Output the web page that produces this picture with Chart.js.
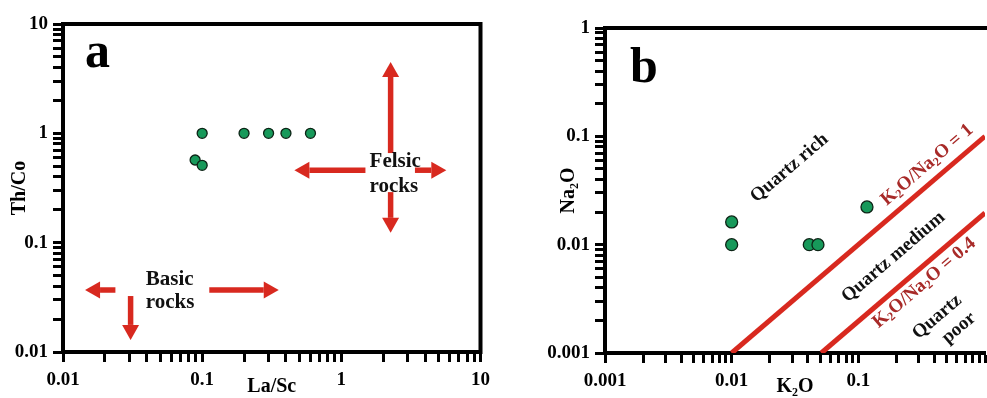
<!DOCTYPE html>
<html>
<head>
<meta charset="utf-8">
<script src="https://cdn.jsdelivr.net/npm/chart.js@4.4.1/dist/chart.umd.min.js"></script>
<style>
  html, body { margin: 0; padding: 0; background: #fff; overflow: hidden; }
  canvas { position: absolute; top: 0; }
</style>
</head>
<body>
<canvas id="chartA" width="497" height="398" style="left:0"></canvas>
<canvas id="chartB" width="500" height="398" style="left:500px"></canvas>
<script>
// Panel a: La/Sc vs Th/Co
const laSc = [0.089, 0.1, 0.1, 0.2, 0.3, 0.4, 0.6];
const thCo = [0.57, 0.51, 1.0, 1.0, 1.0, 1.0, 1.0];

// Panel b: K2O vs Na2O
const k2o  = [0.01, 0.01, 0.041, 0.048, 0.117];
const na2o = [0.0162, 0.01, 0.01, 0.01, 0.0223];

// boundary lines in panel b
const ratio1K2O  = [0.01, 1];
const ratio1Na2O = [0.001, 0.1];
const ratio04K2O  = [0.051, 1];
const ratio04Na2O = [0.001, 0.0196];

// tick labels
const xLabelsA = [0.01, 0.1, 1, 10];
const yLabelsA = [0.01, 0.1, 1, 10];
const xLabelsB = [0.001, 0.01, 0.1];
const yLabelsB = [0.001, 0.01, 0.1, 1];

// annotations, in data units
const arrowsA = [ // tail x, tail y, head x, head y
  [2.26, 0.66, 2.26, 4.5],
  [2.26, 0.29, 2.26, 0.123],
  [1.49, 0.46, 0.46, 0.46],
  [3.38, 0.46, 5.68, 0.46],
  [0.0238, 0.0369, 0.0144, 0.0369],
  [0.0306, 0.0325, 0.0306, 0.0129],
  [0.1125, 0.0369, 0.355, 0.0369]
];
const textA = [['Felsic', 1.596, 0.493], ['rocks', 1.596, 0.291], ['Basic', 0.0393, 0.041], ['rocks', 0.0393, 0.0253]];
const textB = [ // segments [text, isSub], x, y, colour
  [[['Quartz rich', 0]], 0.0286, 0.051, '#111'],
  [[['K', 0], ['2', 1], ['O/Na', 0], ['2', 1], ['O = 1', 0]], 0.349, 0.0545, '#a82a28'],
  [[['Quartz medium', 0]], 0.189, 0.00769, '#111'],
  [[['K', 0], ['2', 1], ['O/Na', 0], ['2', 1], ['O = 0.4', 0]], 0.331, 0.00443, '#a82a28'],
  [[['Quartz', 0]], 0.419, 0.00215, '#111'],
  [[['poor', 0]], 0.623, 0.0017, '#111']
];

const SERIF = "'Liberation Serif', 'Times New Roman', serif";
const RED = '#d8291f';

function mantissa(v) {
  return v / Math.pow(10, Math.floor(Math.log10(v) + 1e-9));
}

function logAxis(pos, min, max, labels, title, size, titlePad) {
  return {
    type: 'logarithmic', position: pos, min: min, max: max,
    afterBuildTicks: s => { s.ticks = s.ticks.filter(t => Math.abs(mantissa(t.value) - 1.5) > 1e-6); },
    afterFit: s => { if (pos === 'left') s.width = size; else s.height = size; },
    border: { display: true, color: '#000', width: 4 },
    grid: { display: true, drawOnChartArea: false, drawTicks: true, tickLength: 10, tickColor: '#000', tickWidth: 3 },
    ticks: {
      autoSkip: false, maxRotation: 0, minRotation: 0, padding: pos === 'left' ? 5 : 7, color: '#000',
      font: { family: SERIF, size: 19, weight: 'bold' },
      callback: v => {
        const hit = labels.find(l => Math.abs(Math.log10(v / l)) < 1e-6);
        return hit !== undefined ? String(hit) : '';
      }
    },
    title: {
      display: true, text: title, color: '#000',
      font: { family: SERIF, size: 20, weight: 'bold', lineHeight: 1.1 },
      padding: { top: titlePad, bottom: 0 }
    }
  };
}

function arrow(ctx, x1, y1, x2, y2) {
  const ang = Math.atan2(y2 - y1, x2 - x1);
  const head = 15, half = 8.5;
  const bx = x2 - head * Math.cos(ang), by = y2 - head * Math.sin(ang);
  ctx.strokeStyle = RED; ctx.fillStyle = RED; ctx.lineWidth = 5.5;
  ctx.beginPath(); ctx.moveTo(x1, y1); ctx.lineTo(bx, by); ctx.stroke();
  ctx.beginPath();
  ctx.moveTo(x2, y2);
  ctx.lineTo(bx + half * Math.sin(ang), by - half * Math.cos(ang));
  ctx.lineTo(bx - half * Math.sin(ang), by + half * Math.cos(ang));
  ctx.closePath(); ctx.fill();
}

function richText(ctx, segs, x, y, angle, size, color) {
  const main = 'bold ' + size + 'px ' + SERIF;
  const sub = 'bold ' + Math.round(size * 0.62) + 'px ' + SERIF;
  let w = 0;
  segs.forEach(s => { ctx.font = s[1] ? sub : main; w += ctx.measureText(s[0]).width; });
  ctx.save();
  ctx.translate(x, y); ctx.rotate(angle);
  ctx.fillStyle = color; ctx.textBaseline = 'middle'; ctx.textAlign = 'left';
  let cx = -w / 2;
  segs.forEach(s => {
    ctx.font = s[1] ? sub : main;
    ctx.fillText(s[0], cx, s[1] ? size * 0.25 : 0);
    cx += ctx.measureText(s[0]).width;
  });
  ctx.restore();
}

const framePlugin = {
  id: 'frame',
  afterDraw(chart, args, opts) {
    const { ctx, chartArea: a } = chart;
    ctx.save();
    ctx.strokeStyle = '#000'; ctx.lineWidth = 4; ctx.lineCap = 'square';
    ctx.beginPath();
    ctx.moveTo(a.left, a.top); ctx.lineTo(a.right, a.top);
    if (opts.right) ctx.lineTo(a.right, a.bottom);
    ctx.stroke();
    ctx.font = 'bold 50px ' + SERIF; ctx.fillStyle = '#000';
    ctx.textBaseline = 'alphabetic';
    ctx.fillText(opts.letter, a.left + opts.dx, a.top + opts.dy);
    ctx.restore();
  }
};

const annotA = {
  id: 'annotA',
  afterDatasetsDraw(chart) {
    const { ctx, scales: { x, y } } = chart;
    ctx.save();
    arrowsA.forEach(r => arrow(ctx, x.getPixelForValue(r[0]), y.getPixelForValue(r[1]), x.getPixelForValue(r[2]), y.getPixelForValue(r[3])));
    ctx.fillStyle = '#111'; ctx.font = 'bold 21px ' + SERIF;
    ctx.textAlign = 'left'; ctx.textBaseline = 'alphabetic';
    textA.forEach(t => ctx.fillText(t[0], x.getPixelForValue(t[1]), y.getPixelForValue(t[2])));
    ctx.restore();
  }
};

const annotB = {
  id: 'annotB',
  afterDatasetsDraw(chart) {
    const { ctx, scales: { x, y } } = chart;
    const ang = Math.atan2(y.getPixelForValue(0.01) - y.getPixelForValue(0.1), x.getPixelForValue(0.1) - x.getPixelForValue(0.01));
    textB.forEach(t => richText(ctx, t[0], x.getPixelForValue(t[1]), y.getPixelForValue(t[2]), -ang, 19, t[3]));
  }
};

const pts = (xs, ys) => xs.map((v, i) => ({ x: v, y: ys[i] }));

const baseOpts = {
  responsive: false, animation: false, devicePixelRatio: 1,
  plugins: { legend: { display: false }, tooltip: { enabled: false } }
};

new Chart(document.getElementById('chartA'), {
  type: 'scatter',
  data: {
    datasets: [{
      data: pts(laSc, thCo),
      pointRadius: 5, pointBackgroundColor: '#17995a', pointBorderColor: '#0d2416', pointBorderWidth: 1.3
    }]
  },
  options: Object.assign({}, baseOpts, {
    layout: { padding: { top: 24, right: 13, left: 0, bottom: 0 } },
    scales: {
      x: logAxis('bottom', 0.01, 10, xLabelsA, 'La/Sc', 46, 0),
      y: logAxis('left', 0.01, 10, yLabelsA, 'Th/Co', 63, 9)
    },
    plugins: Object.assign({}, baseOpts.plugins, { frame: { right: true, letter: 'a', dx: 22, dy: 43 } })
  }),
  plugins: [framePlugin, annotA]
});

new Chart(document.getElementById('chartB'), {
  type: 'scatter',
  data: {
    datasets: [{
      data: pts(k2o, na2o),
      pointRadius: 6, pointBackgroundColor: '#17995a', pointBorderColor: '#0d2416', pointBorderWidth: 1.3
    }, {
      data: pts(ratio1K2O, ratio1Na2O), showLine: true, pointRadius: 0, borderColor: RED, borderWidth: 5
    }, {
      data: pts(ratio04K2O, ratio04Na2O), showLine: true, pointRadius: 0, borderColor: RED, borderWidth: 5
    }]
  },
  options: Object.assign({}, baseOpts, {
    layout: { padding: { top: 28, right: 15, left: 0, bottom: 0 } },
    scales: {
      x: logAxis('bottom', 0.001, 1, xLabelsB, 'K₂O', 45, 0),
      y: logAxis('left', 0.001, 1, yLabelsB, 'Na₂O', 105, 58)
    },
    plugins: Object.assign({}, baseOpts.plugins, { frame: { right: false, letter: 'b', dx: 25, dy: 54 } })
  }),
  plugins: [framePlugin, annotB]
});
</script>
</body>
</html>
